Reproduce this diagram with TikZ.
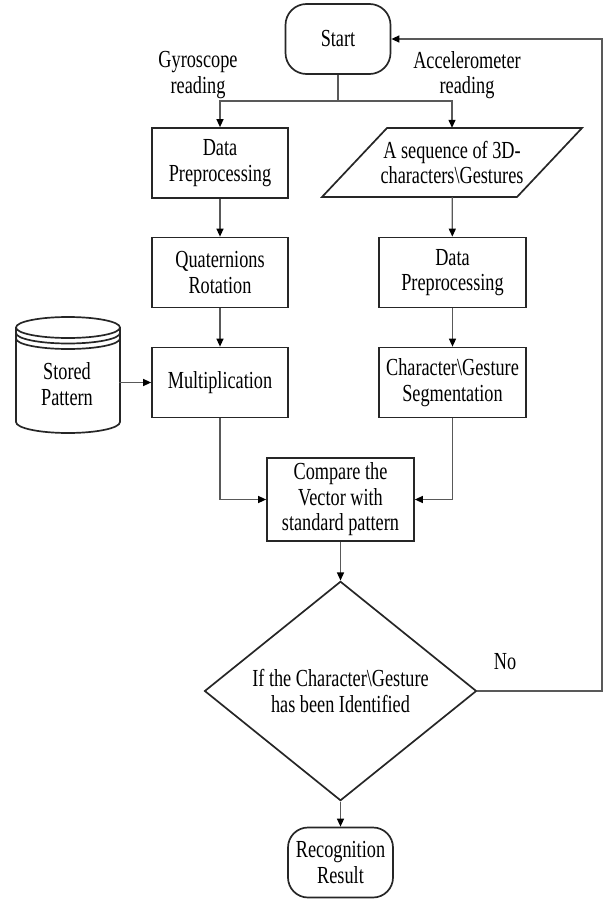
\documentclass[tikz,border=0pt]{standalone}
\usepackage{fontspec}
\setmainfont{Liberation Serif}[FakeStretch=0.745]
\usepackage{tikz}
\usetikzlibrary{arrows.meta,shapes.geometric}

\tikzset{
	box/.style={draw=black!85,line width=1.7pt,align=center},
	proc/.style={box,minimum width=136pt,minimum height=70pt},
	term/.style={box,rounded corners=21pt,minimum width=105pt,minimum height=70pt},
	link/.style={draw=black!65,line width=1.3pt},
}

\begin{document}
\begin{tikzpicture}[x=1pt,y=-1pt,font=\fontsize{24.5}{25.5}\selectfont,
	>={Triangle[length=8pt,width=7pt,color=black]}]
		\useasboundingbox (0,0) rectangle (606,899);
		
		\node[term] (S) at (338,39) {Start};
		\node[align=center] (G) at (198,75) {Gyroscope\\reading};
		\node[align=center] (A) at (467,75) {Accelerometer\\reading};
		\coordinate (J) at (338,101);
		
		\node[proc] (D) at (220,163) {Data\\Preprocessing};
		\node[proc] (Q) at (220,272.5) {Quaternions\\Rotation};
		\node[proc] (M) at (220,382.5) {Multiplication};
		
		\draw[box] (387,128) -- (582,128) -- (517,197) -- (322,197) -- cycle;
		\node[align=center,minimum height=69pt] (A') at (452,162.5) {A sequence of 3D-\\characters\textbackslash Gestures};
		\node[proc,minimum width=147pt] (D') at (452.5,272.5) {Data\\Preprocessing};
		\node[proc,minimum width=147pt,inner sep=1pt] (C') at (452.5,382.5) {Character\textbackslash Gesture\\Segmentation};
		
		% stored pattern
		\draw[box] (68,327.5) ellipse[x radius=52,y radius=10.5];
		\draw[box] (16,333) arc[start angle=180,end angle=0,x radius=52,y radius=10.5];
		\draw[box] (16,338.5) arc[start angle=180,end angle=0,x radius=52,y radius=10.5];
		\draw[box] (16,327.5) -- (16,422) arc[start angle=180,end angle=0,x radius=52,y radius=11] -- (120,327.5);
		\node[align=center,minimum width=104pt] (P) at (67,384) {Stored\\Pattern};
		
		\node[proc,minimum width=147pt,minimum height=83pt] (V) at (340.5,499.5) {Compare the\\Vector with\\standard pattern};
		\node[box,diamond,minimum width=272pt,minimum height=136pt,inner sep=0pt] (I) at (340.5,691) {If the Character\textbackslash Gesture\\has been Identified};
		\node (N) at (505,662) {No};
		\node[term,rounded corners=20pt,inner sep=1pt] (R) at (340.5,862.5) {Recognition\\Result};
		\coordinate (L) at (602,691);
		
		%
		\draw[link] (S) -- (J);
		\draw[link,->] (J) -| (D);
		\draw[link,->] (J) -| (A');
		\path[link,->]
		(D) edge (Q)
		(Q) edge (M)
		(A') edge (D')
		(D') edge (C')
		(V) edge (I)
		(I) edge (R);
		\draw[link,->] (M.west -| P.east) -- (M.west);
		\draw[link,->] (M) |- (V);
		\draw[link,->] (C') |- (V);
		\draw[link,->] (I.east) -- (L) |- (S.east);
		
	\end{tikzpicture}
\end{document}
